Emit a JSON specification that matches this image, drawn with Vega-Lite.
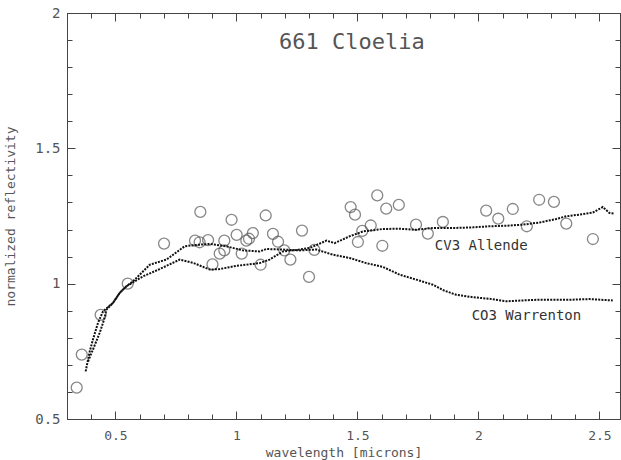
{
  "$schema": "https://vega.github.io/schema/vega-lite/v6.json",
  "width": 553,
  "height": 406,
  "autosize": "none",
  "padding": {"left": 67, "top": 13, "right": 1, "bottom": 41},
  "background": "white",
  "config": {
    "view": {"stroke": "#444", "strokeWidth": 1},
    "axis": {
      "grid": false,
      "domainColor": "#444",
      "tickColor": "#444",
      "labelFont": "DejaVu Sans Mono",
      "labelFontSize": 14,
      "labelColor": "#555",
      "titleFont": "DejaVu Sans Mono",
      "titleFontSize": 13,
      "titleFontWeight": "normal",
      "titleColor": "#555"
    }
  },
  "datasets": {
    "obs": [
      {"w": 0.340, "r": 0.616}, {"w": 0.361, "r": 0.738}, {"w": 0.439, "r": 0.885}, {"w": 0.551, "r": 1.000},
      {"w": 0.701, "r": 1.148}, {"w": 0.851, "r": 1.265}, {"w": 0.829, "r": 1.159}, {"w": 0.848, "r": 1.153},
      {"w": 0.883, "r": 1.161}, {"w": 0.901, "r": 1.071}, {"w": 0.931, "r": 1.111}, {"w": 0.950, "r": 1.159},
      {"w": 0.950, "r": 1.123}, {"w": 0.980, "r": 1.236}, {"w": 1.001, "r": 1.180}, {"w": 1.022, "r": 1.111},
      {"w": 1.041, "r": 1.159}, {"w": 1.052, "r": 1.166}, {"w": 1.068, "r": 1.187}, {"w": 1.100, "r": 1.070},
      {"w": 1.121, "r": 1.252}, {"w": 1.151, "r": 1.184}, {"w": 1.172, "r": 1.155}, {"w": 1.198, "r": 1.123},
      {"w": 1.223, "r": 1.089}, {"w": 1.271, "r": 1.196}, {"w": 1.300, "r": 1.025}, {"w": 1.322, "r": 1.125},
      {"w": 1.472, "r": 1.283}, {"w": 1.490, "r": 1.255}, {"w": 1.502, "r": 1.154}, {"w": 1.520, "r": 1.195},
      {"w": 1.555, "r": 1.215}, {"w": 1.582, "r": 1.326}, {"w": 1.603, "r": 1.140}, {"w": 1.619, "r": 1.277},
      {"w": 1.671, "r": 1.291}, {"w": 1.742, "r": 1.218}, {"w": 1.791, "r": 1.185}, {"w": 1.853, "r": 1.228},
      {"w": 2.032, "r": 1.270}, {"w": 2.082, "r": 1.240}, {"w": 2.142, "r": 1.276}, {"w": 2.200, "r": 1.212},
      {"w": 2.251, "r": 1.310}, {"w": 2.312, "r": 1.302}, {"w": 2.363, "r": 1.222}, {"w": 2.473, "r": 1.165}
    ],
    "spectra": [
      {"s": "CO3 Warrenton", "w": 0.377, "r": 0.676}, {"s": "CO3 Warrenton", "w": 0.394, "r": 0.750},
      {"s": "CO3 Warrenton", "w": 0.407, "r": 0.793}, {"s": "CO3 Warrenton", "w": 0.428, "r": 0.855},
      {"s": "CO3 Warrenton", "w": 0.449, "r": 0.898}, {"s": "CO3 Warrenton", "w": 0.490, "r": 0.929},
      {"s": "CO3 Warrenton", "w": 0.518, "r": 0.966}, {"s": "CO3 Warrenton", "w": 0.545, "r": 0.990},
      {"s": "CO3 Warrenton", "w": 0.573, "r": 1.009}, {"s": "CO3 Warrenton", "w": 0.587, "r": 1.021},
      {"s": "CO3 Warrenton", "w": 0.642, "r": 1.070}, {"s": "CO3 Warrenton", "w": 0.711, "r": 1.089},
      {"s": "CO3 Warrenton", "w": 0.786, "r": 1.138}, {"s": "CO3 Warrenton", "w": 0.821, "r": 1.142},
      {"s": "CO3 Warrenton", "w": 0.891, "r": 1.147}, {"s": "CO3 Warrenton", "w": 0.958, "r": 1.138},
      {"s": "CO3 Warrenton", "w": 1.027, "r": 1.123}, {"s": "CO3 Warrenton", "w": 1.096, "r": 1.119},
      {"s": "CO3 Warrenton", "w": 1.124, "r": 1.128}, {"s": "CO3 Warrenton", "w": 1.192, "r": 1.126},
      {"s": "CO3 Warrenton", "w": 1.261, "r": 1.123}, {"s": "CO3 Warrenton", "w": 1.330, "r": 1.126},
      {"s": "CO3 Warrenton", "w": 1.399, "r": 1.107}, {"s": "CO3 Warrenton", "w": 1.468, "r": 1.095},
      {"s": "CO3 Warrenton", "w": 1.536, "r": 1.076}, {"s": "CO3 Warrenton", "w": 1.605, "r": 1.062},
      {"s": "CO3 Warrenton", "w": 1.675, "r": 1.033}, {"s": "CO3 Warrenton", "w": 1.743, "r": 1.015},
      {"s": "CO3 Warrenton", "w": 1.812, "r": 0.996}, {"s": "CO3 Warrenton", "w": 1.860, "r": 0.974},
      {"s": "CO3 Warrenton", "w": 1.908, "r": 0.959}, {"s": "CO3 Warrenton", "w": 1.977, "r": 0.950},
      {"s": "CO3 Warrenton", "w": 2.046, "r": 0.944}, {"s": "CO3 Warrenton", "w": 2.115, "r": 0.935},
      {"s": "CO3 Warrenton", "w": 2.184, "r": 0.938}, {"s": "CO3 Warrenton", "w": 2.253, "r": 0.941},
      {"s": "CO3 Warrenton", "w": 2.390, "r": 0.941}, {"s": "CO3 Warrenton", "w": 2.459, "r": 0.943},
      {"s": "CO3 Warrenton", "w": 2.555, "r": 0.938},
      {"s": "CV3 Allende", "w": 0.387, "r": 0.713}, {"s": "CV3 Allende", "w": 0.407, "r": 0.756},
      {"s": "CV3 Allende", "w": 0.435, "r": 0.818}, {"s": "CV3 Allende", "w": 0.453, "r": 0.867},
      {"s": "CV3 Allende", "w": 0.463, "r": 0.904}, {"s": "CV3 Allende", "w": 0.490, "r": 0.929},
      {"s": "CV3 Allende", "w": 0.518, "r": 0.966}, {"s": "CV3 Allende", "w": 0.545, "r": 0.990},
      {"s": "CV3 Allende", "w": 0.573, "r": 1.005}, {"s": "CV3 Allende", "w": 0.614, "r": 1.027},
      {"s": "CV3 Allende", "w": 0.683, "r": 1.054}, {"s": "CV3 Allende", "w": 0.766, "r": 1.089},
      {"s": "CV3 Allende", "w": 0.821, "r": 1.077}, {"s": "CV3 Allende", "w": 0.890, "r": 1.052},
      {"s": "CV3 Allende", "w": 0.931, "r": 1.054}, {"s": "CV3 Allende", "w": 1.000, "r": 1.066},
      {"s": "CV3 Allende", "w": 1.096, "r": 1.076}, {"s": "CV3 Allende", "w": 1.137, "r": 1.089},
      {"s": "CV3 Allende", "w": 1.192, "r": 1.119}, {"s": "CV3 Allende", "w": 1.261, "r": 1.126},
      {"s": "CV3 Allende", "w": 1.303, "r": 1.132}, {"s": "CV3 Allende", "w": 1.372, "r": 1.159},
      {"s": "CV3 Allende", "w": 1.406, "r": 1.150}, {"s": "CV3 Allende", "w": 1.468, "r": 1.175},
      {"s": "CV3 Allende", "w": 1.523, "r": 1.193}, {"s": "CV3 Allende", "w": 1.605, "r": 1.202},
      {"s": "CV3 Allende", "w": 1.674, "r": 1.203}, {"s": "CV3 Allende", "w": 1.743, "r": 1.199},
      {"s": "CV3 Allende", "w": 1.812, "r": 1.206}, {"s": "CV3 Allende", "w": 1.908, "r": 1.206},
      {"s": "CV3 Allende", "w": 1.977, "r": 1.208}, {"s": "CV3 Allende", "w": 2.046, "r": 1.212},
      {"s": "CV3 Allende", "w": 2.115, "r": 1.214}, {"s": "CV3 Allende", "w": 2.184, "r": 1.218},
      {"s": "CV3 Allende", "w": 2.253, "r": 1.226}, {"s": "CV3 Allende", "w": 2.322, "r": 1.239},
      {"s": "CV3 Allende", "w": 2.363, "r": 1.249}, {"s": "CV3 Allende", "w": 2.418, "r": 1.255},
      {"s": "CV3 Allende", "w": 2.473, "r": 1.263}, {"s": "CV3 Allende", "w": 2.514, "r": 1.283},
      {"s": "CV3 Allende", "w": 2.542, "r": 1.261}, {"s": "CV3 Allende", "w": 2.562, "r": 1.259}
    ],
    "labels": [
      {"t": "CV3 Allende", "w": 1.820, "r": 1.140},
      {"t": "CO3 Warrenton", "w": 1.972, "r": 0.882}
    ],
    "heading": [
      {"t": "661 Cloelia", "w": 1.477, "r": 1.894}
    ]
  },
  "layer": [
    {
      "data": {"name": "obs"},
      "mark": {"type": "point", "shape": "circle", "filled": false, "size": 120, "stroke": "#555", "strokeWidth": 1.3},
      "encoding": {
        "x": {
          "field": "w", "type": "quantitative",
          "scale": {"domain": [0.3, 2.585], "nice": false, "zero": false},
          "axis": {
            "orient": "bottom",
            "values": [0.5, 1.0, 1.5, 2.0, 2.5],
            "tickSize": -8,
            "labelExpr": "toString(round(datum.value*10)/10)",
            "labelPadding": 18,
            "labelFontSize": 13,
            "title": "wavelength [microns]",
            "titleY": 33,
            "titleBaseline": "middle"
          }
        },
        "y": {
          "field": "r", "type": "quantitative",
          "scale": {"domain": [0.5, 2.0], "nice": false, "zero": false},
          "axis": {
            "orient": "left",
            "values": [0.5, 1.0, 1.5, 2.0],
            "tickSize": -8,
            "labelExpr": "toString(round(datum.value*10)/10)",
            "labelPadding": 15,
            "title": "normalized reflectivity",
            "titleX": -57,
            "titleBaseline": "middle"
          }
        }
      }
    },
    {
      "data": {"name": "spectra"},
      "mark": {"type": "line", "color": "#111", "strokeWidth": 2, "strokeDash": [2, 1.2], "interpolate": "linear"},
      "encoding": {
        "detail": {"field": "s", "type": "nominal"},
        "x": {
          "field": "w", "type": "quantitative",
          "axis": {
            "orient": "bottom",
            "values": [0.3,0.4,0.6,0.7,0.8,0.9,1.1,1.2,1.3,1.4,1.6,1.7,1.8,1.9,2.1,2.2,2.3,2.4],
            "tickSize": -5,
            "labels": false,
            "domain": false,
            "title": null
          }
        },
        "y": {
          "field": "r", "type": "quantitative",
          "axis": {
            "orient": "left",
            "values": [0.6,0.7,0.8,0.9,1.1,1.2,1.3,1.4,1.6,1.7,1.8,1.9],
            "tickSize": -5,
            "labels": false,
            "domain": false,
            "title": null
          }
        }
      }
    },
    {
      "data": {"name": "labels"},
      "mark": {"type": "text", "align": "left", "baseline": "middle", "font": "DejaVu Sans Mono", "fontSize": 14, "color": "#333"},
      "encoding": {
        "x": {"field": "w", "type": "quantitative",
          "axis": {"orient": "top", "values": [0.5, 1.0, 1.5, 2.0, 2.5], "tickSize": -8, "labels": false, "title": null}},
        "y": {"field": "r", "type": "quantitative",
          "axis": {"orient": "right", "values": [0.5, 1.0, 1.5, 2.0], "tickSize": -8, "labels": false, "title": null}},
        "text": {"field": "t"}
      }
    },
    {
      "data": {"name": "heading"},
      "mark": {"type": "text", "align": "center", "baseline": "middle", "font": "DejaVu Sans Mono", "fontSize": 22, "color": "#555"},
      "encoding": {
        "x": {"field": "w", "type": "quantitative",
          "axis": {"orient": "top", "values": [0.3,0.4,0.6,0.7,0.8,0.9,1.1,1.2,1.3,1.4,1.6,1.7,1.8,1.9,2.1,2.2,2.3,2.4], "tickSize": -5, "labels": false, "domain": false, "title": null}},
        "y": {"field": "r", "type": "quantitative",
          "axis": {"orient": "right", "values": [0.6,0.7,0.8,0.9,1.1,1.2,1.3,1.4,1.6,1.7,1.8,1.9], "tickSize": -5, "labels": false, "domain": false, "title": null}},
        "text": {"field": "t"}
      }
    }
  ],
  "resolve": {"axis": {"x": "independent", "y": "independent"}}
}
